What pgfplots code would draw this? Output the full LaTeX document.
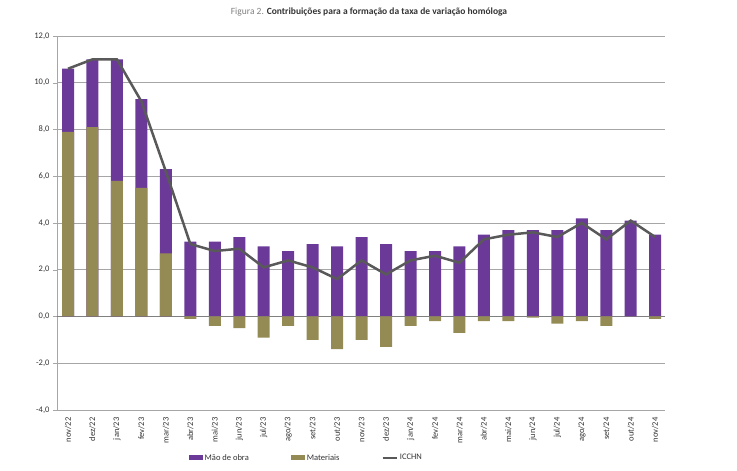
\documentclass[border=0pt]{standalone}
\usepackage{fontspec}
\setmainfont{Carlito}
\usepackage{pgfplots}
\usepackage{pgfplotstable}
\pgfplotsset{compat=1.18}

\definecolor{mao}{HTML}{6B3A99}
\definecolor{mat}{HTML}{948A54}
\definecolor{icchn}{HTML}{595959}
\definecolor{gridc}{HTML}{A6A6A6}

% idx, label, Mao de obra, Materiais, ICCHN
\pgfplotstableread{
idx lab    mao  mat   icchn
0  nov/22  2.7  7.9   10.6
1  dez/22  2.9  8.1   11.0
2  jan/23  5.2  5.8   11.0
3  fev/23  3.8  5.5   9.2
4  mar/23  3.6  2.7   6.2
5  abr/23  3.2  -0.1  3.1
6  mai/23  3.2  -0.4  2.8
7  jun/23  3.4  -0.5  2.9
8  jul/23  3.0  -0.9  2.1
9  ago/23  2.8  -0.4  2.4
10 set/23  3.1  -1.0  2.1
11 out/23  3.0  -1.4  1.6
12 nov/23  3.4  -1.0  2.4
13 dez/23  3.1  -1.3  1.8
14 jan/24  2.8  -0.4  2.4
15 fev/24  2.8  -0.2  2.6
16 mar/24  3.0  -0.7  2.3
17 abr/24  3.5  -0.2  3.3
18 mai/24  3.7  -0.2  3.5
19 jun/24  3.7  -0.05 3.6
20 jul/24  3.7  -0.3  3.4
21 ago/24  4.2  -0.2  4.0
22 set/24  3.7  -0.4  3.3
23 out/24  4.1  0.0   4.1
24 nov/24  3.5  -0.1  3.4
}\data

\begin{document}
\begin{tikzpicture}[x=1pt,y=1pt]
\useasboundingbox (0,0) rectangle (737,471);
\node[font=\fontsize{9.5}{11}\selectfont] at (369,459)
  {\textcolor{gray}{Figura 2.} \textcolor{black!80}{\bfseries Contribuições para a formação da taxa de variação homóloga}};
\begin{axis}[
    at={(57pt,61pt)}, anchor=south west,
    scale only axis, width=608pt, height=374pt,
    xmin=-0.45, xmax=24.4,
    ymin=-4, ymax=12,
    ytick={-4,-2,...,12},
    xtick=data,
    xticklabels from table={\data}{lab},
    xticklabel style={rotate=90, anchor=east, font=\fontsize{8.5}{9}\selectfont, text=black!80},
    yticklabel style={font=\fontsize{8.5}{9}\selectfont, text=black!80},
    /pgf/number format/.cd, fixed, fixed zerofill, precision=1, use comma, assume math mode=true,
    /pgfplots/.cd,
    axis y line*=left,
    axis x line*=bottom,
    x axis line style={draw=none},
    y axis line style={gridc},
    x tick style={draw=none},
    y tick style={gridc},
    tick align=outside,
    major tick length=4pt,
    ymajorgrids=true,
    grid style={gridc, line width=0.8pt},
    ybar, bar shift=0pt, bar width=12pt,
    legend columns=3,
    legend style={at={(0.41,-0.128)}, anchor=center, draw=none,
      font=\fontsize{8.5}{9}\selectfont, text=black!80,
      /tikz/every even column/.append style={column sep=40pt}},
    legend cell align=left,
]
\draw[gray, line width=0.8pt] (axis cs:-0.45,0) -- (axis cs:24.4,0);
\addplot[fill=mao, draw=none, area legend,
  legend image code/.code={\fill[mao] (0pt,-2.5pt) rectangle (14pt,2.5pt);}]
  table[x=idx, y expr={\thisrow{mao}+max(\thisrow{mat},0)}] {\data};
\addlegendentry{Mão de obra}
\addplot[fill=mat, draw=none, area legend,
  legend image code/.code={\fill[mat] (0pt,-2.5pt) rectangle (14pt,2.5pt);}]
  table[x=idx, y=mat] {\data};
\addlegendentry{Materiais}
\addplot[sharp plot, icchn, line width=2.5pt, mark=none,
  legend image code/.code={\draw[icchn, line width=2.5pt] (0pt,0pt) -- (14pt,0pt);}]
  table[x=idx, y=icchn] {\data};
\addlegendentry{ICCHN}
\end{axis}
\end{tikzpicture}
\end{document}
